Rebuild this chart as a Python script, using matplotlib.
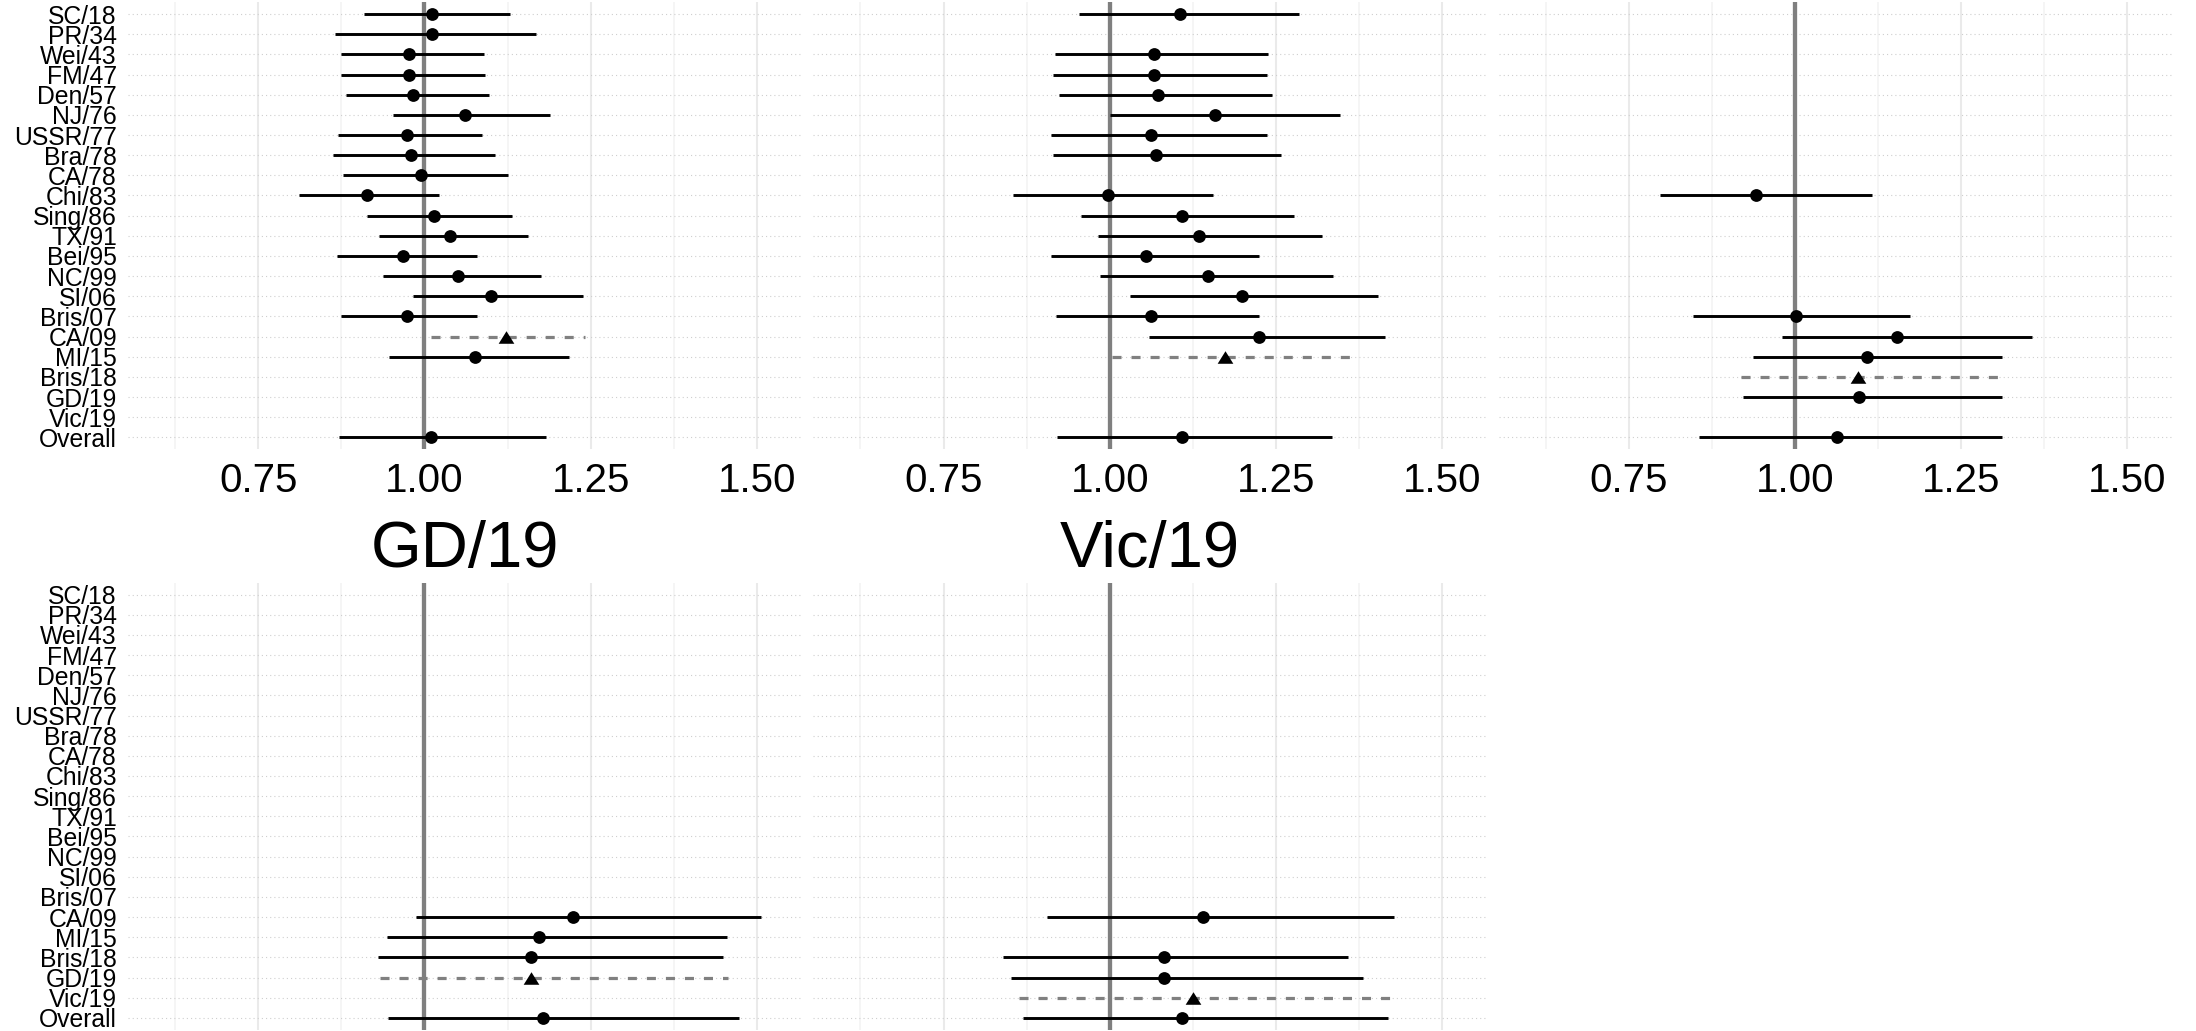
import numpy as np
import matplotlib
matplotlib.use("Agg")
import matplotlib.pyplot as plt
from matplotlib.ticker import FixedLocator, FormatStrFormatter

plt.rcParams['font.family'] = ['Liberation Sans', 'DejaVu Sans']
plt.rcParams['lines.scale_dashes'] = False

nan = np.nan

studies = ["SC/18", "PR/34", "Wei/43", "FM/47", "Den/57", "NJ/76", "USSR/77",
           "Bra/78", "CA/78", "Chi/83", "Sing/86", "TX/91", "Bei/95", "NC/99",
           "SI/06", "Bris/07", "CA/09", "MI/15", "Bris/18", "GD/19", "Vic/19",
           "Overall"]

panel_titles = ["CA/09", "MI/15", "Bris/18", "GD/19", "Vic/19"]

# Panel CA/09
est_ca09 = [1.012, 1.011, 0.977, 0.977, 0.982, 1.061, 0.973, 0.979, 0.995, 0.914, 1.014,
            1.039, 0.967, 1.051, 1.100, 0.973, 1.122, 1.076, nan, nan, nan, 1.010]
lo_ca09 = [0.909, 0.866, 0.875, 0.875, 0.882, 0.953, 0.870, 0.863, 0.877, 0.812, 0.913,
           0.932, 0.869, 0.938, 0.982, 0.875, 1.010, 0.946, nan, nan, nan, 0.871]
hi_ca09 = [1.129, 1.168, 1.090, 1.091, 1.097, 1.189, 1.087, 1.106, 1.126, 1.022, 1.131,
           1.156, 1.079, 1.175, 1.238, 1.079, 1.242, 1.217, nan, nan, nan, 1.183]

# Panel MI/15
est_mi15 = [1.105, nan, 1.066, 1.066, 1.072, 1.158, 1.062, 1.070, nan, 0.997, 1.108,
            1.134, 1.054, 1.148, 1.199, 1.062, 1.224, 1.174, nan, nan, nan, 1.108]
lo_mi15 = [0.953, nan, 0.917, 0.915, 0.924, 1.000, 0.912, 0.915, nan, 0.855, 0.956,
           0.982, 0.912, 0.986, 1.031, 0.919, 1.059, 1.003, nan, nan, nan, 0.921]
hi_mi15 = [1.284, nan, 1.238, 1.236, 1.244, 1.346, 1.236, 1.258, nan, 1.156, 1.277,
           1.319, 1.224, 1.336, 1.404, 1.224, 1.414, 1.372, nan, nan, nan, 1.334]

# Panel Bris/18
est_bris18 = [nan, nan, nan, nan, nan, nan, nan, nan, nan, 0.941, nan,
              nan, nan, nan, nan, 1.001, 1.154, 1.108, 1.095, 1.096, nan, 1.063]
lo_bris18 = [nan, nan, nan, nan, nan, nan, nan, nan, nan, 0.797, nan,
             nan, nan, nan, nan, 0.846, 0.981, 0.937, 0.919, 0.921, nan, 0.856]
hi_bris18 = [nan, nan, nan, nan, nan, nan, nan, nan, nan, 1.116, nan,
             nan, nan, nan, nan, 1.173, 1.356, 1.312, 1.309, 1.312, nan, 1.312]

# Panel GD/19
est_gd19 = [nan] * 16 + [1.224, 1.173, 1.160, 1.160, nan, 1.179]
lo_gd19 = [nan] * 16 + [0.987, 0.944, 0.930, 0.933, nan, 0.945]
hi_gd19 = [nan] * 16 + [1.506, 1.455, 1.449, 1.457, nan, 1.473]

# Panel Vic/19
est_vic19 = [nan] * 16 + [1.141, nan, 1.082, 1.082, 1.125, 1.108]
lo_vic19 = [nan] * 16 + [0.905, nan, 0.839, 0.852, 0.863, 0.870]
hi_vic19 = [nan] * 16 + [1.427, nan, 1.358, 1.381, 1.434, 1.419]

x_ticks = [0.75, 1.00, 1.25, 1.50]
x_minor = [0.625, 0.875, 1.125, 1.375]

panels = [
    (est_ca09, lo_ca09, hi_ca09),
    (est_mi15, lo_mi15, hi_mi15),
    (est_bris18, lo_bris18, hi_bris18),
    (est_gd19, lo_gd19, hi_gd19),
    (est_vic19, lo_vic19, hi_vic19),
]

W, H = 2196, 1031
fig = plt.figure(figsize=(W / 100, H / 100), dpi=100)
fig.patch.set_facecolor('white')


def rect(x0, y0, x1, y1):
    return [x0 / W, 1 - y1 / H, (x1 - x0) / W, (y1 - y0) / H]


cols = [(128, 801.7), (813.3, 1487.0), (1498.6, 2172.3)]
rows_px = [(2.0, 449.4), (582.5, 1029.9)]

tri = [(-1, -0.8), (1, -0.8), (0, 0.8), (-1, -0.8)]

ypos = np.arange(len(studies))

for k, (est, lo, hi) in enumerate(panels):
    r, c = divmod(k, 3)
    x0, x1 = cols[c]
    y0, y1 = rows_px[r]
    ax = fig.add_axes(rect(x0, y0, x1, y1))
    ax.set_facecolor('white')
    for s in ax.spines.values():
        s.set_visible(False)
    ax.set_xlim(0.554, 1.5675)
    ax.set_ylim(len(studies) - 0.4, -0.6)
    ax.xaxis.set_major_locator(FixedLocator(x_ticks))
    ax.xaxis.set_minor_locator(FixedLocator(x_minor))
    ax.xaxis.set_major_formatter(FormatStrFormatter('%.2f'))
    ax.set_yticks(ypos)
    ax.set_yticklabels(studies)
    ax.set_axisbelow(True)
    ax.grid(axis='x', which='major', color='#EAEAEA', lw=1.5)
    ax.grid(axis='x', which='minor', color='#F2F2F2', lw=1.1)
    ax.grid(axis='y', which='major', color='#CFCFCF', lw=0.8,
            linestyle=(0, (0.8, 2.2)))
    ax.tick_params(axis='both', which='both', length=0)
    ax.tick_params(axis='x', labelsize=29, pad=9, labelcolor='black')
    ax.tick_params(axis='y', labelsize=17.8, pad=8, labelcolor='black')
    if c != 0:
        ax.tick_params(axis='y', labelleft=False)
    if r == 1:
        ax.tick_params(axis='x', labelbottom=False)
        ax.set_title(panel_titles[k], fontsize=47, pad=11.4)

    ax.axvline(1.0, color='#7F7F7F', lw=3.1, zorder=2)

    est = np.array(est, dtype=float)
    lo = np.array(lo, dtype=float)
    hi = np.array(hi, dtype=float)
    hl = studies.index(panel_titles[k])
    mask = ~np.isnan(est)
    norm = mask.copy()
    norm[hl] = False
    ax.hlines(ypos[norm], lo[norm], hi[norm], color='black', lw=2.1, zorder=3)
    ax.plot(est[norm], ypos[norm], 'o', color='black', ms=9.2, mew=0, zorder=4)
    if mask[hl]:
        ax.hlines([ypos[hl]], [lo[hl]], [hi[hl]], color='#808080', lw=2.3,
                  linestyles=[(0, (6.5, 7.2))], zorder=3)
        ax.plot([est[hl]], [ypos[hl]], marker=tri, color='black', ms=11.3,
                mew=0, linestyle='none', zorder=4)

fig.savefig('out.png', dpi=100, facecolor='white')
